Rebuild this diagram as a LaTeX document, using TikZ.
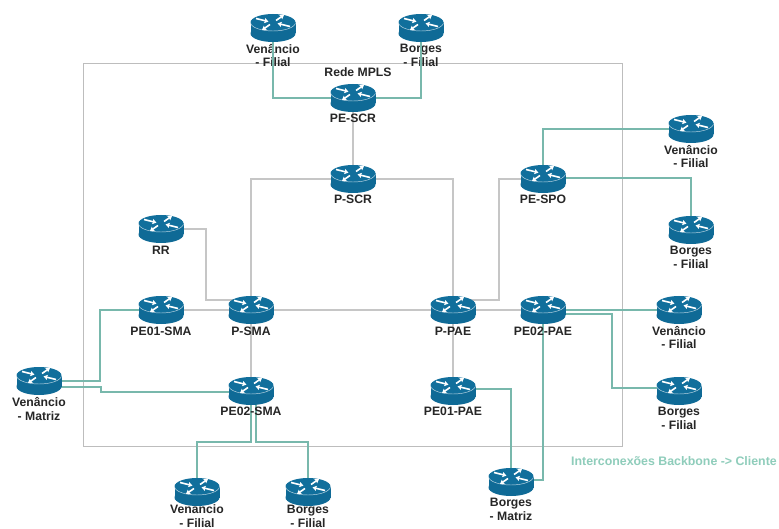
\documentclass[tikz,border=0pt]{standalone}
\usepackage{fontspec}
\usetikzlibrary{arrows.meta}
\setmainfont{Liberation Sans}
\definecolor{routerblue}{HTML}{0F6A96}
\definecolor{routertop}{HTML}{116F9C}
\definecolor{teallink}{HTML}{78B8AC}
\definecolor{graylink}{HTML}{C6C6C6}
\definecolor{framegray}{HTML}{BDBDBD}
\definecolor{tealtext}{HTML}{8FCDBB}
\definecolor{labelgray}{HTML}{262626}
\pgfdeclarelayer{wires}
\pgfsetlayers{wires,main}
\tikzset{
  routerbox/.style={minimum width=45pt,minimum height=28pt,inner sep=0pt,outer sep=0pt},
  lbl/.style={font=\bfseries\fontsize{12.2}{13.5}\selectfont,text=labelgray,inner sep=0pt,align=center},
  corelink/.style={draw=graylink,line width=1.4pt},
  custlink/.style={draw=teallink,line width=1.8pt},
  glyph/.style={white,line width=1.6pt,-{Stealth[length=4pt,width=5pt,inset=.6pt]}},
  router/.pic={
    \fill[routerblue] (-22.5,-5.5) rectangle (22.5,5.5);
    \fill[routerblue] (0,5.5) ellipse[x radius=22.5,y radius=8.5];
    \fill[routertop] (0,-5.5) ellipse[x radius=22.5,y radius=8.5];
    \draw[white,line width=.45pt,opacity=.75] (-22.5,-5.5) arc[start angle=180,end angle=0,x radius=22.5,y radius=8.5];
    \draw[glyph] (-17,-9.5) -- (-4.5,-6.4);
    \draw[glyph] (17,-1.5) -- (4.5,-4.6);
    \draw[glyph] (3,-7.5) -- (11,-13);
    \draw[glyph] (-3,-3.5) -- (-11,2);
  },
  x=1pt,y=-1pt
}
\newcommand{\routerat}[5]{%
  \node[routerbox] (#1) at (#2,#3) {};
  \node[lbl] (#1l) at (#2,#3+#4) {#5};
}
\begin{document}
\begin{tikzpicture}
\useasboundingbox (0,0) rectangle (779,529);
\begin{pgfonlayer}{wires}
\fill[white] (0,0) rectangle (779,529);
\node[draw=framegray,line width=.9pt,inner sep=0pt,outer sep=0pt,minimum width=539pt,minimum height=383pt] (mpls) at (352.5,254.5) {};
\end{pgfonlayer}
\node[lbl] (mplsl) at (358,72) {Rede MPLS};
\routerat{vftop}{273}{28}{27.5}{Venâncio\\- Filial}
\routerat{bftop}{421}{28}{27.5}{Borges\\- Filial}
\routerat{pescr}{353}{98}{20.5}{PE-SCR}
\routerat{pscr}{353}{179}{20.5}{P-SCR}
\routerat{pespo}{543}{179}{20.5}{PE-SPO}
\routerat{vfspo}{691}{129}{27.5}{Venâncio\\- Filial}
\routerat{bfspo}{691}{230}{27.5}{Borges\\- Filial}
\routerat{rr}{161}{229}{21}{RR}
\routerat{pe1sma}{161}{310}{21}{PE01-SMA}
\routerat{psma}{251}{310}{21}{P-SMA}
\routerat{ppae}{453}{310}{21}{P-PAE}
\routerat{pe2pae}{543}{310}{21}{PE02-PAE}
\routerat{vfpae}{679}{310}{27.5}{Venâncio\\- Filial}
\routerat{bfpae}{679}{391}{27.5}{Borges\\- Filial}
\routerat{pe2sma}{251}{391}{20.5}{PE02-SMA}
\routerat{pe1pae}{453}{391}{20.5}{PE01-PAE}
\routerat{vmz}{39}{381}{28}{Venâncio\\- Matriz}
\routerat{bmz}{511}{482}{27.5}{Borges\\- Matriz}
\routerat{vfsma}{197}{492}{24}{Venâncio\\- Filial}
\routerat{bfsma}{308}{492}{24.5}{Borges\\- Filial}
\node[lbl,text=tealtext,font=\bfseries\fontsize{12.35}{13.5}\selectfont,anchor=west] (legend) at (571,461) {Interconexões Backbone -> Cliente};
\begin{pgfonlayer}{wires}
% backbone
\draw[corelink] (pescr) -- (pscr);
\draw[corelink] (psma) |- (pscr);
\draw[corelink] (pscr) -| (ppae);
\draw[corelink] (rr) -| (206,300) -- (psma.center |- 0,300);
\draw[corelink] (pe1sma) -- (psma);
\draw[corelink] (psma) -- (ppae);
\draw[corelink] (ppae) -- (pe2pae);
\draw[corelink] (psma) -- (pe2sma);
\draw[corelink] (ppae) -- (pe1pae);
\draw[corelink] (ppae.center |- 0,300) -- (499,300) |- (pespo);
% customer links
\draw[custlink] (pespo) |- (vfspo);
\draw[custlink] ([yshift=1pt]pespo.center) -| (bfspo);
\draw[custlink] (pe2pae) -- (vfpae);
\draw[custlink] ([yshift=-4pt]pe2pae.center) -| (612,388) -- (bfpae.center |- 0,388);
\draw[custlink] (pe2pae) |- (bmz.center |- 0,480);
\draw[custlink] (pe1pae.center |- 0,389) -| (bmz);
\draw[custlink] (vmz) -| (100,310) -- (pe1sma);
\draw[custlink] (vmz.center |- 0,387) -| (101,392) -- (pe2sma.center |- 0,392);
\draw[custlink] (pe2sma) |- (197,442) -- (vfsma);
\draw[custlink] ([xshift=5pt]pe2sma.center) |- (308,442) -- (bfsma);
\end{pgfonlayer}
% these two run over their labels
\draw[custlink] (vftop) |- (pescr);
\draw[custlink] (bftop) |- (pescr);
% routers on top
\foreach \n in {vftop,bftop,pescr,pscr,pespo,vfspo,bfspo,rr,pe1sma,psma,ppae,pe2pae,vfpae,bfpae,pe2sma,pe1pae,vmz,bmz,vfsma,bfsma}
  \pic at (\n) {router};
\end{tikzpicture}
\end{document}
